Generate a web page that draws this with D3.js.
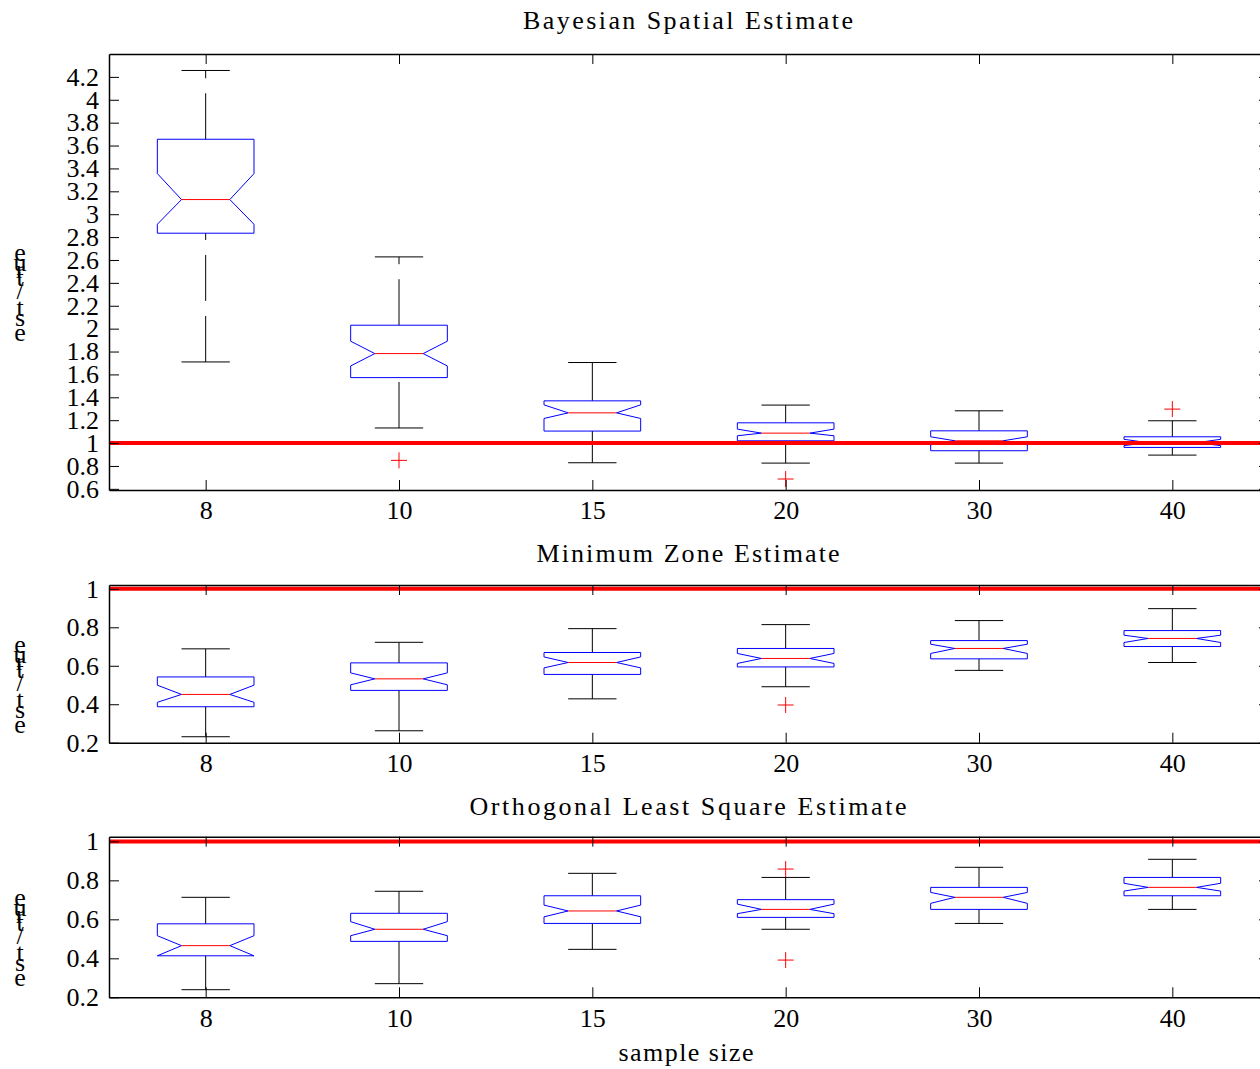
<!DOCTYPE html>
<html>
<head>
<meta charset="utf-8">
<script src="https://cdn.jsdelivr.net/npm/d3@7"></script>
<style>
  body { margin: 0; background: #fff; }
  svg { display: block; }
  text { font-family: "Liberation Serif", "Times New Roman", serif; fill: #000; }
</style>
</head>
<body>
<svg id="chart" width="1260" height="1069"></svg>
<script>
let sampleSizes = ['8', '10', '15', '20', '30', '40'];

// one row per sample size: [lower whisker, q1, notch low, median, notch high, q3, upper whisker]
let bayesStats = [
    [1.709, 2.834, 2.912, 3.128, 3.355, 3.655, 4.256],
    [1.132, 1.572, 1.674, 1.782, 1.890, 2.030, 2.627],
    [0.828, 1.105, 1.215, 1.264, 1.334, 1.369, 1.704],
    [0.825, 1.020, 1.064, 1.087, 1.122, 1.177, 1.332],
    [0.825, 0.933, 0.985, 1.020, 1.055, 1.107, 1.282],
    [0.895, 0.962, 0.978, 1.003, 1.033, 1.055, 1.195]
];
let bayesOutliers = [[], [0.849], [], [0.686], [], [1.297]];

let minZoneStats = [
    [0.231, 0.387, 0.410, 0.451, 0.499, 0.542, 0.688],
    [0.262, 0.472, 0.501, 0.532, 0.563, 0.615, 0.722],
    [0.428, 0.555, 0.589, 0.617, 0.646, 0.669, 0.793],
    [0.491, 0.594, 0.612, 0.638, 0.664, 0.690, 0.814],
    [0.576, 0.636, 0.664, 0.690, 0.712, 0.731, 0.835],
    [0.617, 0.700, 0.721, 0.742, 0.759, 0.783, 0.897]
];
let minZoneOutliers = [[], [], [], [0.396], [], []];

let olsStats = [
    [0.239, 0.413, 0.413, 0.465, 0.516, 0.577, 0.713],
    [0.270, 0.487, 0.516, 0.549, 0.588, 0.631, 0.744],
    [0.446, 0.579, 0.613, 0.643, 0.673, 0.721, 0.836],
    [0.549, 0.610, 0.629, 0.651, 0.678, 0.701, 0.815],
    [0.579, 0.651, 0.682, 0.713, 0.738, 0.764, 0.867],
    [0.651, 0.721, 0.745, 0.764, 0.785, 0.815, 0.908]
];
let olsOutliers = [[], [], [], [0.858, 0.391], [], []];

let bayesTicks = [0.6, 0.8, 1, 1.2, 1.4, 1.6, 1.8, 2, 2.2, 2.4, 2.6, 2.8, 3, 3.2, 3.4, 3.6, 3.8, 4, 4.2];
let ratioTicks = [0.2, 0.4, 0.6, 0.8, 1];
let trueValue = 1;
let yLabelChars = ['e', 'u', 'r', 't', '/', 't', 's', 'e'];

let panels = [
    {title: 'Bayesian Spatial Estimate', stats: bayesStats, outliers: bayesOutliers, ticks: bayesTicks,
        domain: [0.59, 4.4], top: 54, bottom: 490, titleY: 29, titleLen: 330},
    {title: 'Minimum Zone Estimate', stats: minZoneStats, outliers: minZoneOutliers, ticks: ratioTicks,
        domain: [0.2, 1.02], top: 585, bottom: 742.7, titleY: 562, titleLen: 303},
    {title: 'Orthogonal Least Square Estimate', stats: olsStats, outliers: olsOutliers, ticks: ratioTicks,
        domain: [0.2, 1.024], top: 836.7, bottom: 997.3, titleY: 815, titleLen: 437}
];

let svg = d3.select('#chart');
let left = 109, right = 1269;
let fontSize = 26;
let tickLen = 10;
let boxHalf = 0.25, notchHalf = 0.125, capHalf = 0.125;
let plusSize = 8;

let x = d3.scaleLinear().domain([0.5, sampleSizes.length + 0.5]).range([left, right]);
let positions = sampleSizes.map((d, i) => i + 1);

function styleAxis(g, labels) {
    g.select('.domain').attr('stroke', '#000').attr('stroke-width', 1.5);
    g.selectAll('.tick line').attr('stroke', '#000').attr('stroke-width', 1);
    g.selectAll('.tick text')
        .attr('font-family', '"Liberation Serif", "Times New Roman", serif')
        .attr('font-size', fontSize)
        .attr('fill', '#000');
    if (!labels) g.selectAll('.tick text').remove();
}

panels.forEach(p => {
    let y = d3.scaleLinear().domain(p.domain).range([p.bottom, p.top]);
    let g = svg.append('g');

    // boxes
    p.stats.forEach((s, i) => {
        let cx = positions[i];
        let [lo, q1, nlo, med, nhi, q3, hi] = s;

        g.append('line')
            .attr('x1', x(cx)).attr('x2', x(cx))
            .attr('y1', y(q3)).attr('y2', y(hi))
            .attr('stroke', '#000').attr('stroke-dasharray', '46,15');
        g.append('line')
            .attr('x1', x(cx)).attr('x2', x(cx))
            .attr('y1', y(lo)).attr('y2', y(q1))
            .attr('stroke', '#000').attr('stroke-dasharray', '46,15');
        [lo, hi].forEach(v => {
            g.append('line')
                .attr('x1', x(cx - capHalf)).attr('x2', x(cx + capHalf))
                .attr('y1', y(v)).attr('y2', y(v))
                .attr('stroke', '#000');
        });

        let pts = [
            [cx - boxHalf, q3], [cx + boxHalf, q3], [cx + boxHalf, nhi], [cx + notchHalf, med],
            [cx + boxHalf, nlo], [cx + boxHalf, q1], [cx - boxHalf, q1], [cx - boxHalf, nlo],
            [cx - notchHalf, med], [cx - boxHalf, nhi]
        ];
        g.append('path')
            .attr('d', d3.line().x(d => x(d[0])).y(d => y(d[1]))(pts) + 'Z')
            .attr('fill', 'none')
            .attr('stroke', '#0000ff');
        g.append('line')
            .attr('x1', x(cx - notchHalf)).attr('x2', x(cx + notchHalf))
            .attr('y1', y(med)).attr('y2', y(med))
            .attr('stroke', '#ff0000');

        p.outliers[i].forEach(v => {
            g.append('path')
                .attr('d', `M${x(cx) - plusSize},${y(v)}H${x(cx) + plusSize}M${x(cx)},${y(v) - plusSize}V${y(v) + plusSize}`)
                .attr('stroke', '#ff0000')
                .attr('fill', 'none');
        });
    });

    // reference line at the true value
    g.append('line')
        .attr('x1', left).attr('x2', right)
        .attr('y1', y(trueValue)).attr('y2', y(trueValue))
        .attr('stroke', '#ff0000').attr('stroke-width', 4);

    // axes, ticks pointing inwards
    let xb = g.append('g').attr('transform', `translate(0,${p.bottom})`)
        .call(d3.axisBottom(x).tickValues(positions).tickFormat((d, i) => sampleSizes[i])
            .tickSizeInner(-tickLen).tickSizeOuter(0).tickPadding(11));
    styleAxis(xb, true);
    let xt = g.append('g').attr('transform', `translate(0,${p.top})`)
        .call(d3.axisTop(x).tickValues(positions).tickSizeInner(-tickLen).tickSizeOuter(0));
    styleAxis(xt, false);
    let yl = g.append('g').attr('transform', `translate(${left},0)`)
        .call(d3.axisLeft(y).tickValues(p.ticks).tickFormat(d => String(d))
            .tickSizeInner(-tickLen).tickSizeOuter(0).tickPadding(10));
    styleAxis(yl, true);
    let yr = g.append('g').attr('transform', `translate(${right},0)`)
        .call(d3.axisRight(y).tickValues(p.ticks).tickSizeInner(-tickLen).tickSizeOuter(0));
    styleAxis(yr, false);

    // title
    g.append('text')
        .attr('x', 688).attr('y', p.titleY)
        .attr('text-anchor', 'middle')
        .attr('font-size', fontSize)
        .attr('textLength', p.titleLen)
        .attr('lengthAdjust', 'spacing')
        .text(p.title);

    // y label "est/true", glyphs stacked upright
    let base = (p.top + p.bottom) / 2 + 69;
    let offsets = [-80, -70, -63, -55, -42, -25, -15, 0];
    yLabelChars.forEach((c, i) => {
        g.append('text')
            .attr('x', 20).attr('y', base + offsets[i])
            .attr('text-anchor', 'middle')
            .attr('font-size', fontSize)
            .text(c);
    });
});

svg.append('text')
    .attr('x', 686).attr('y', 1061)
    .attr('text-anchor', 'middle')
    .attr('font-size', fontSize)
    .attr('textLength', 135)
    .attr('lengthAdjust', 'spacing')
    .text('sample size');
</script>
</body>
</html>
